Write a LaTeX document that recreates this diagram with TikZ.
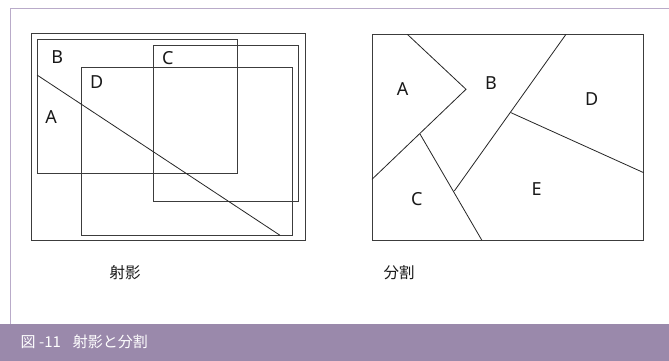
\documentclass[tikz,border=0pt]{standalone}
\usepackage{fontspec}
\setmainfont{Noto Sans}
\newfontfamily\cjk{Noto Sans CJK JP}
\definecolor{frame}{HTML}{B9ABC9}
\definecolor{bar}{HTML}{9A89AB}
\definecolor{rectc}{HTML}{3C3C3C}
\begin{document}
\begin{tikzpicture}[x=1pt,y=-1pt,
  rectline/.style={draw=rectc,line width=1pt},
  cutline/.style={draw=black!85,line width=0.8pt},
  lbl/.style={font=\fontsize{18}{20}\selectfont,text=black!90,inner sep=0pt},
  captext/.style={font=\cjk\fontsize{15.5}{17}\selectfont,text=black!90,inner sep=0pt}]
\useasboundingbox (0,0) rectangle (669,361);
\fill[white] (0,0) rectangle (669,361);
% frame lines
\draw[frame,line width=1pt] (669,9) -- (10.7,9) -- (10.7,324);
\fill[bar] (0,324) rectangle (669,361);
\node[anchor=west,text=white,inner sep=0pt,font=\cjk\fontsize{15}{17}\selectfont] (title) at (20.5,341.5) {図 -11\hspace{0.8em}射影と分割};
% left figure
\draw[rectline] (31.7,33.3) rectangle (305,240.7);
\draw[rectline] (37,39.7) rectangle (237.3,173.3);
\draw[rectline] (153.7,45.3) rectangle (298.3,201.7);
\draw[rectline] (81.7,68) rectangle (292.3,235.3);
\coordinate (d1) at (37,75);
\coordinate (d2) at (280,235.3);
\draw[cutline] (d1) -- (d2);
\node[lbl] (lB) at (57.3,57) {B};
\node[lbl] (lC) at (167.7,58.5) {C};
\node[lbl] (lD) at (96.7,82) {D};
\node[lbl] (lA) at (51,117) {A};
\node[captext] (c1) at (125,272.5) {射影};
% right figure
\draw[rectline] (372,34.3) rectangle (643.7,240);
\coordinate (p1) at (407.3,34.3);
\coordinate (p2) at (466,89.3);
\coordinate (p3) at (372,179.3);
\coordinate (p4) at (420,134);
\coordinate (p5) at (481.7,240);
\coordinate (p6) at (566,34.3);
\coordinate (p7) at (454.3,191);
\coordinate (p8) at (511,112.7);
\coordinate (p9) at (643.7,172.7);
\draw[cutline] (p1) -- (p2) -- (p3);
\draw[cutline] (p4) -- (p5);
\draw[cutline] (p6) -- (p7);
\draw[cutline] (p8) -- (p9);
\node[lbl] (rA) at (402.7,89.5) {A};
\node[lbl] (rB) at (491,83.5) {B};
\node[lbl] (rD) at (591.7,99) {D};
\node[lbl] (rC) at (416.7,199.5) {C};
\node[lbl] (rE) at (536.7,189) {E};
\node[captext] (c2) at (399,272.5) {分割};
\end{tikzpicture}
\end{document}
